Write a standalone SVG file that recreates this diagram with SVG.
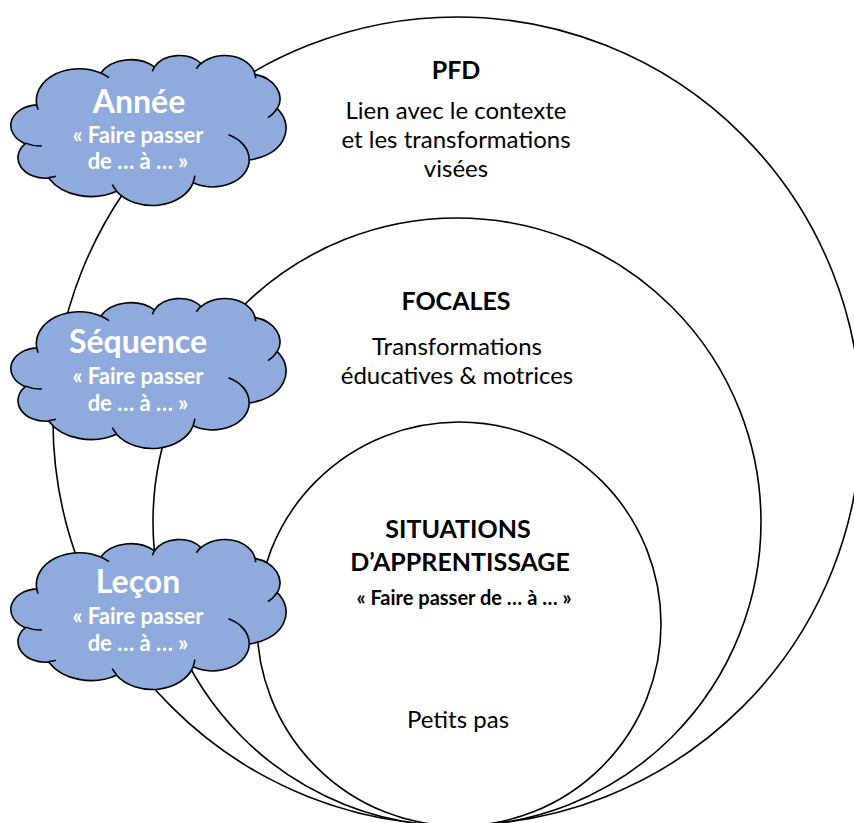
<svg xmlns="http://www.w3.org/2000/svg" width="854" height="823" viewBox="0 0 854 823">
<style>
.ring{fill:#ffffff;stroke:#000;stroke-width:1.6}
.cloud{fill:#8FAADC;stroke:#000;stroke-width:1.6;stroke-linejoin:round}
.crease{fill:none;stroke:#000;stroke-width:1.6}
.ct{font-family:Lato,"Liberation Sans",sans-serif;font-weight:bold;fill:#fff;text-anchor:middle}
.h{font-family:Lato,"Liberation Sans",sans-serif;font-weight:bold;fill:#000;text-anchor:middle}
.b{font-family:Lato,"Liberation Sans",sans-serif;fill:#000;text-anchor:middle}
</style>
<defs>
<g id="cloudShape">
<path class="cloud" d="M24.74 49.90 A42.83 31.91 0 0 1 88.83 18.06 A33.83 25.23 0 0 1 142.43 11.92 A27.69 20.64 0 0 1 189.22 8.62 A30.81 22.90 0 0 1 243.04 19.37 A33.83 25.25 0 0 1 265.24 53.68 A42.97 32.01 0 0 1 237.25 104.88 A36.69 27.32 0 0 1 181.12 127.83 A42.83 32.00 0 0 1 104.53 136.34 A48.96 36.61 0 0 1 36.83 123.17 A27.65 20.55 0 0 1 13.41 88.72 A27.56 20.64 0 0 1 24.74 49.90 Z"/>
<path class="crease" d="M29.77 90.89 A27.56 20.64 0 0 1 13.70 88.12 M43.94 121.18 A27.65 20.55 0 0 1 36.91 122.50 M104.51 135.73 A42.83 32.00 0 0 1 100.28 129.68 M182.84 120.66 A42.83 32.00 0 0 1 181.14 127.29 M216.47 79.70 A36.69 27.32 0 0 1 237.09 104.48 M265.11 53.31 A33.83 25.25 0 0 1 255.92 62.60 M243.07 18.84 A30.81 22.90 0 0 1 243.56 23.23 M184.43 13.72 A30.81 22.90 0 0 1 189.14 8.12 M140.43 16.39 A27.69 20.64 0 0 1 142.71 11.57 M88.80 18.03 A42.83 31.91 0 0 1 97.04 22.71 M26.18 54.82 A42.83 31.91 0 0 1 24.74 49.90"/>
</g>
</defs>

<g id="pfd">
<circle class="ring" cx="457" cy="421" r="404"/>
<text class="h" x="456" y="79" font-size="25">PFD</text>
<text class="b" x="456" y="119" font-size="24">Lien avec le contexte</text>
<text class="b" x="456" y="148" font-size="24">et les transformations</text>
<text class="b" x="456" y="177" font-size="24">visées</text>
</g>

<g id="focales">
<circle class="ring" cx="457" cy="522" r="304"/>
<text class="h" x="456" y="310" font-size="25">FOCALES</text>
<text class="b" x="457" y="355" font-size="24">Transformations</text>
<text class="b" x="457" y="384" font-size="24">éducatives &amp; motrices</text>
</g>

<g id="situations">
<circle class="ring" cx="459" cy="624" r="202"/>
<text class="h" x="458" y="538" font-size="25">SITUATIONS</text>
<text class="h" x="460" y="571" font-size="25">D’APPRENTISSAGE</text>
<text class="h" x="464" y="605" font-size="20">« Faire passer de … à … »</text>
<text class="b" x="458" y="728" font-size="24">Petits pas</text>
</g>

<g id="annee">
<use href="#cloudShape" transform="translate(12,55)"/>
<text class="ct" x="139" y="113" font-size="32">Année</text>
<text class="ct" x="138" y="143" font-size="22">« Faire passer</text>
<text class="ct" x="138" y="169" font-size="22">de … à … »</text>
</g>

<g id="sequence">
<use href="#cloudShape" transform="translate(12,298)"/>
<text class="ct" x="138" y="353" font-size="32">Séquence</text>
<text class="ct" x="138" y="384" font-size="22">« Faire passer</text>
<text class="ct" x="138" y="411" font-size="22">de … à … »</text>
</g>

<g id="lecon">
<use href="#cloudShape" transform="translate(12,539)"/>
<text class="ct" x="138" y="593" font-size="32">Leçon</text>
<text class="ct" x="138" y="624" font-size="22">« Faire passer</text>
<text class="ct" x="138" y="651" font-size="22">de … à … »</text>
</g>

<g id="connectors"></g>
</svg>
